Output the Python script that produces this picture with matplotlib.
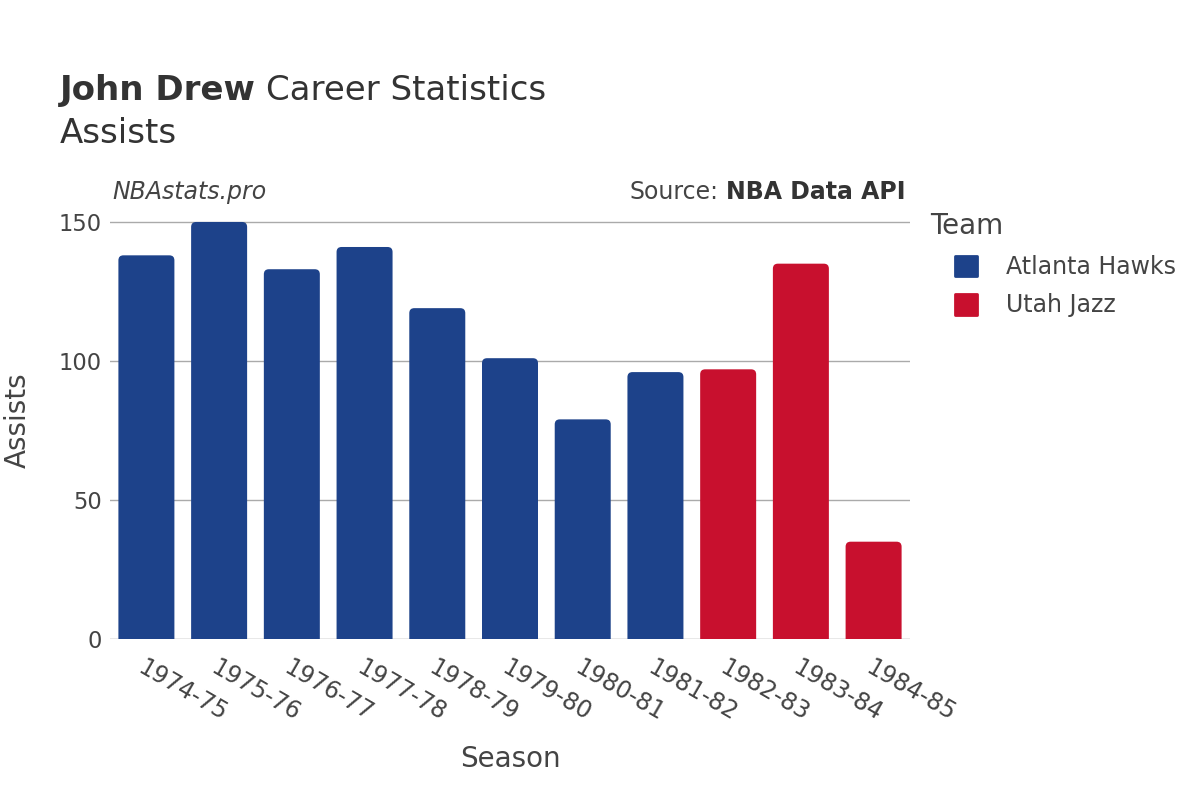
import matplotlib
matplotlib.use("Agg")
import matplotlib.pyplot as plt
from matplotlib.patches import FancyBboxPatch, Patch

# data
seasons = ["1974-75", "1975-76", "1976-77", "1977-78", "1978-79", "1979-80",
           "1980-81", "1981-82", "1982-83", "1983-84", "1984-85"]
assists = [138, 150, 133, 141, 119, 101, 79, 96, 97, 135, 35]
teams = ["Atlanta Hawks"] * 8 + ["Utah Jazz"] * 3
team_colors = {"Atlanta Hawks": "#1d428a", "Utah Jazz": "#c8102e"}

plt.rcParams['font.family'] = ['DejaVu Sans']
text_color = "#444444"

fig = plt.figure(figsize=(12, 8), dpi=100)
ax = fig.add_axes([0.0917, 0.20125, 0.6666, 0.54875])

x = list(range(len(seasons)))
bars = ax.bar(x, assists, width=0.77, color=[team_colors[t] for t in teams], zorder=3)

ax.set_xlim(-0.5, len(seasons) - 0.5)
ax.set_ylim(0, 157.9)

# swap plain bars for rounded ones (bottom corners hidden below the axis)
fig.canvas.draw()
renderer = fig.canvas.get_renderer()
px_x = ax.transData.transform((1, 0))[0] - ax.transData.transform((0, 0))[0]
px_y = ax.transData.transform((0, 1))[1] - ax.transData.transform((0, 0))[1]
r = 5 / px_x
for b in bars:
    b.set_visible(False)
    fb = FancyBboxPatch((b.get_x() + r, -10 + r * px_x / px_y),
                        b.get_width() - 2 * r, b.get_height() + 10 - 2 * r * px_x / px_y,
                        boxstyle="round,pad=%f,rounding_size=%f" % (r, r),
                        mutation_aspect=px_x / px_y,
                        facecolor=b.get_facecolor(), edgecolor="none", zorder=3)
    ax.add_patch(fb)

ax.set_yticks([0, 50, 100, 150])
ax.grid(axis="y", color="#aaaaaa", linewidth=1, zorder=0)
ax.axhline(0, color="#e8e8e8", linewidth=2, zorder=2)
for s in ax.spines.values():
    s.set_visible(False)
ax.tick_params(axis="both", length=0, labelsize=17, labelcolor=text_color)
ax.tick_params(axis="y", pad=6, labelsize=16.3)
ax.set_xticks(x)
ax.set_xticklabels(seasons, rotation=-30, ha="left", va="top", rotation_mode="anchor")
ax.tick_params(axis="x", pad=12)

ax.set_xlabel("Season", fontsize=20, color=text_color, labelpad=14)
fig.text(18 / 1200, 1 - 420 / 800, "Assists", fontsize=20, color=text_color,
         rotation=90, ha="center", va="center")

# titles
t1 = fig.text(0.05, 0.875, "John Drew", fontsize=24.5, fontweight="bold", color="#333333")
bb = t1.get_window_extent(renderer)
fig.text((bb.x1 + 10) / 1200, 0.875, "Career Statistics", fontsize=24.5, color="#333333")
fig.text(0.05, 0.821, "Assists", fontsize=24.5, color="#333333")

fig.text(0.094, 0.751, "NBAstats.pro", fontsize=17, style="italic", color=text_color)
src = fig.text(0.755, 0.751, "NBA Data API", fontsize=17, fontweight="bold", color="#333333", ha="right")
sb = src.get_window_extent(renderer)
fig.text((sb.x0 - 8) / 1200, 0.751, "Source:", fontsize=17, color=text_color, ha="right")

# legend
fig.text(0.775, 0.707, "Team", fontsize=20, color=text_color)
handles = [Patch(facecolor=team_colors[t], label=t) for t in team_colors]
leg = fig.legend(handles=handles, loc="upper left",
                 bbox_to_anchor=(0.778, 0.708), frameon=False,
                 fontsize=17, handlelength=0.95,
                 handleheight=0.95, handletextpad=1.2, labelspacing=0.62)
for t in leg.get_texts():
    t.set_color(text_color)
for h in leg.legend_handles:
    h.set_joinstyle("round")
    h.set_edgecolor(h.get_facecolor())
    h.set_linewidth(2)

fig.savefig("out.png", dpi=100)
